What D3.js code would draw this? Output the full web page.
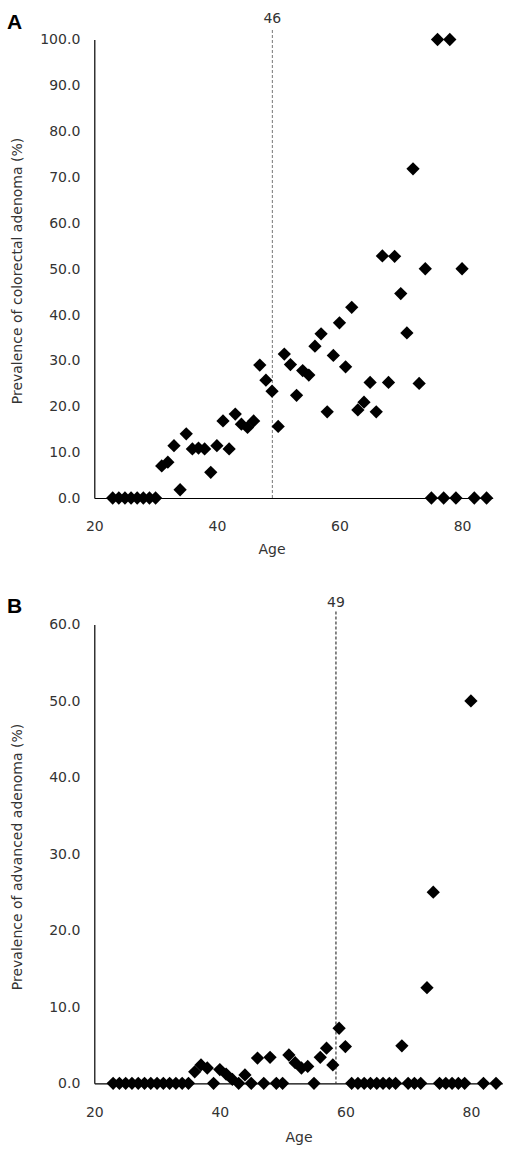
<!DOCTYPE html>
<html>
<head>
<meta charset="utf-8">
<script src="https://cdn.jsdelivr.net/npm/d3@7"></script>
<style>
  html, body { margin: 0; padding: 0; background: #fff; }
  svg { display: block; }
  text { font-family: "DejaVu Sans", Verdana, sans-serif; }
</style>
</head>
<body>
<svg id="chart" width="511" height="1152"></svg>
<script>
// ---------- Data ----------
const ages = [23,24,25,26,27,28,29,30,31,32,33,34,35,36,37,38,39,40,41,42,43,44,45,46,47,48,49,50,
  51,52,53,54,55,56,57,58,59,60,61,62,63,64,65,66,67,68,69,70,71,72,73,74,75,76,77,78,79,80,82,84];

const prevalenceAdenoma = [0,0,0,0,0,0,0,0, 7.0,7.8,11.4,1.8,14.0,10.7,10.9,10.7,5.6,11.4,16.8,10.7,18.3,16.1,15.4,16.8,
  29.0,25.7,23.3,15.6,31.4,29.1,22.4,27.8,26.8,33.1,35.8,18.8,31.1,38.2,28.6,41.6,19.2,20.9,25.2,18.8,
  52.8,25.2,52.7,44.6,36.0,71.8,25.0,50.0, 0,100,0,100,0,50.0,0,0];

const prevalenceAdvanced = [0,0,0,0,0,0,0,0,0,0,0,0,0, 1.5,2.4,2.0,0,1.8,1.2,0.5,0,1.1,0,3.3,0,3.4,0,0,
  3.7,2.7,2.0,2.2,0,3.4,4.6,2.4,7.2,4.8, 0,0,0,0,0,0,0,0, 4.9,0,0,0,12.5,25.0, 0,0,0,0,0,50.0,0,0];

const xTicks = [20, 40, 60, 80];
const yTicksA = [0,10,20,30,40,50,60,70,80,90,100];
const yTicksB = [0,10,20,30,40,50,60];

const panels = [
  { letter: "A", values: prevalenceAdenoma, yTicks: yTicksA, yMax: 100, xTitle: "Age",
    yTitle: "Prevalence of colorectal adenoma (%)", cutoffLabel: "46", cutoffAge: 49.05 },
  { letter: "B", values: prevalenceAdvanced, yTicks: yTicksB, yMax: 60, xTitle: "Age",
    yTitle: "Prevalence of advanced adenoma (%)", cutoffLabel: "49", cutoffAge: 58.5 }
];

// ---------- Layout ----------
const layout = [
  { left: 94.3, right: 492.7, top: 39.5, bottom: 498, letterY: 29, cutTop: 30, cutLabelY: 23, tickY: 531, ageX: 272, ageY: 554, titleX: 22, titleY: 271, cutStroke: "#777" },
  { left: 94.3, right: 502.3, top: 624.5, bottom: 1083.3, letterY: 613, cutTop: 611.5, cutLabelY: 607, tickY: 1117, ageX: 299, ageY: 1142, titleX: 22, titleY: 857, cutStroke: "#111" }
];

const svg = d3.select("#chart");
const diamond = d3.symbol().type(d3.symbolSquare).size(88);

panels.forEach((p, i) => {
  const L = layout[i];
  const x = d3.scaleLinear().domain([20, 85]).range([L.left, L.right]);
  const y = d3.scaleLinear().domain([0, p.yMax]).range([L.bottom, L.top]);
  const g = svg.append("g");

  // panel letter
  g.append("text").attr("x", 7).attr("y", L.letterY)
    .attr("font-size", 21).attr("font-weight", "bold").attr("fill", "#000")
    .style("font-family", "'Liberation Sans', Arial, sans-serif")
    .text(p.letter);

  // y axis
  const yAxis = d3.axisLeft(y).tickValues(p.yTicks).tickSize(0).tickPadding(14)
    .tickFormat(d3.format(".1f"));
  const ya = g.append("g").attr("transform", `translate(${L.left},0)`).call(yAxis);
  ya.select(".domain").attr("stroke", "#000").attr("stroke-width", 1.2);
  ya.selectAll("text").attr("font-size", 14).attr("fill", "#333")
    .style("font-family", "'DejaVu Sans', sans-serif");

  // x axis
  const xAxis = d3.axisBottom(x).tickValues(xTicks).tickSize(0).tickPadding(0);
  const xa = g.append("g").attr("transform", `translate(0,${y(0)})`).call(xAxis);
  xa.select(".domain").attr("stroke", "#000").attr("stroke-width", 1.2);
  xa.selectAll("text").attr("font-size", 14).attr("fill", "#333")
    .attr("y", L.tickY - y(0)).attr("dy", 0)
    .style("font-family", "'DejaVu Sans', sans-serif");

  // axis titles
  g.append("text").attr("x", L.ageX).attr("y", L.ageY).attr("text-anchor", "middle")
    .attr("font-size", 14).attr("fill", "#333").text(p.xTitle);
  g.append("text").attr("transform", `translate(${L.titleX},${L.titleY}) rotate(-90)`)
    .attr("text-anchor", "middle").attr("font-size", 14).attr("fill", "#333")
    .text(p.yTitle);

  // cutoff dashed line
  g.append("line").attr("x1", x(p.cutoffAge)).attr("x2", x(p.cutoffAge))
    .attr("y1", L.cutTop).attr("y2", y(0))
    .attr("stroke", L.cutStroke).attr("stroke-width", 1).attr("stroke-dasharray", "3,2");
  g.append("text").attr("x", x(p.cutoffAge)).attr("y", L.cutLabelY)
    .attr("text-anchor", "middle").attr("font-size", 14).attr("fill", "#333")
    .text(p.cutoffLabel);

  // points
  g.append("g").selectAll("path").data(ages.map((a, k) => ({ age: a, v: p.values[k] })))
    .join("path")
    .attr("d", diamond)
    .attr("transform", d => `translate(${x(d.age)},${y(d.v)}) rotate(45)`)
    .attr("fill", "#000");
});
</script>
</body>
</html>
